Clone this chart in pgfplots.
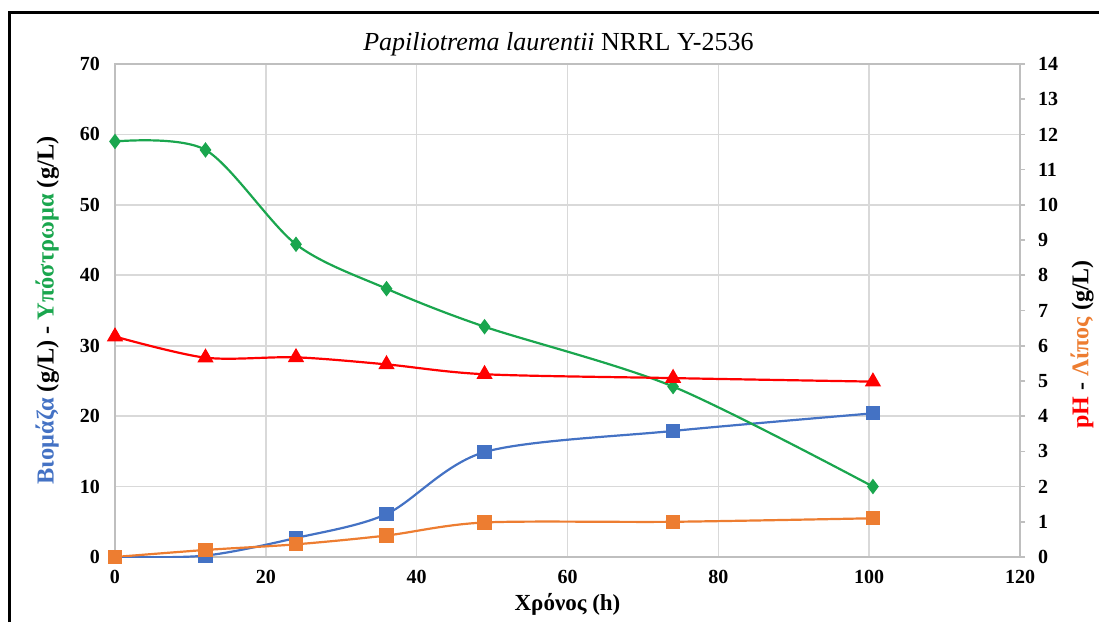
\documentclass[border=0pt]{standalone}
\usepackage{pgfplots}
\pgfplotsset{compat=1.18}
\usepackage{fontspec}
\setmainfont{Liberation Serif}

\definecolor{biomass}{HTML}{4472C4}
\definecolor{substrate}{HTML}{1AA64E}
\definecolor{lipid}{HTML}{ED7D31}
\definecolor{phred}{HTML}{FF0000}
\definecolor{gridgray}{HTML}{D9D9D9}
\definecolor{axisgray}{HTML}{BFBFBF}

\pgfplotsset{
  common/.style={
    at={(57.5pt,32.5pt)}, anchor=south west,
    scale only axis, width=452.5pt, height=246.5pt,
    xmin=0, xmax=120,
    /pgf/number format/assume math mode=true,
    ticklabel style={font=\fontsize{10}{12}\selectfont\bfseries},
  },
  series/.style={smooth, tension=0.5, line width=1.1pt, color=#1, mark options={solid, fill=#1, draw=#1}},
}

\begin{document}
\begin{tikzpicture}
\path[use as bounding box] (0pt,0pt) rectangle (549.5pt,311pt);
\draw[line width=1.5pt] (4.5pt,0pt) -- (4.5pt,304.5pt) -- (549.5pt,304.5pt);

% primary axis: biomass and substrate (g/L)
\begin{axis}[common,
  ymin=0, ymax=70,
  xtick={0,20,...,120}, ytick={0,10,...,70},
  grid=major, major grid style={gridgray, line width=0.8pt},
  axis line style={axisgray, line width=0.8pt},
  major tick length=0pt,
  xticklabel style={yshift=-3pt},
  yticklabel style={xshift=-4pt},
  title={\textit{Papiliotrema laurentii} NRRL Y-2536},
  title style={font=\fontsize{13}{15}\selectfont, at={(axis description cs:0.49,1.004)}, anchor=base},
  xlabel={\textbf{Χρόνος (h)}},
  xlabel style={font=\fontsize{11.5}{13}\selectfont, at={(axis description cs:0.5,-0.108)}, anchor=base},
  ylabel={\bfseries\textcolor{biomass}{Βιομάζα} (g/L) - \textcolor{substrate}{Υπόστρωμα} (g/L)},
  ylabel style={font=\fontsize{12.2}{14}\selectfont, at={(axis description cs:-0.075,0.5)}, anchor=center},
]
\addplot[series=biomass, mark=square*, mark size=3pt] coordinates {
  (0,0) (12,0.2) (24,2.7) (36,6.1) (49,14.9) (74,17.9) (100.5,20.4)
};
\addplot[series=substrate, mark=diamond*, mark size=3pt] coordinates {
  (0,59.0) (12,57.8) (24,44.4) (36,38.1) (49,32.7) (74,24.2) (100.5,10.0)
};
\end{axis}

% secondary axis: pH and lipid (g/L)
\begin{axis}[common,
  ymin=0, ymax=14,
  axis x line=none, axis y line*=right,
  ytick={0,1,...,14},
  axis line style={axisgray, line width=0.8pt},
  tick style={axisgray, line width=0.8pt},
  tick align=outside, major tick length=2.5pt,
  yticklabel style={xshift=3pt},
  ylabel={\bfseries\textcolor{phred}{pH} - \textcolor{lipid}{Λίπος} (g/L)},
  ylabel style={font=\fontsize{12}{14}\selectfont, at={(axis description cs:1.0685,0.431)}, anchor=center},
]
\addplot[series=lipid, mark=square*, mark size=3pt] coordinates {
  (0,0) (12,0.2) (24,0.36) (36,0.61) (49,0.98) (74,1.0) (100.5,1.1)
};
\addplot[series=phred, mark=triangle*, mark size=3.6pt] coordinates {
  (0,6.26) (12,5.66) (24,5.67) (36,5.47) (49,5.19) (74,5.08) (100.5,4.98)
};
\end{axis}
\end{tikzpicture}
\end{document}
